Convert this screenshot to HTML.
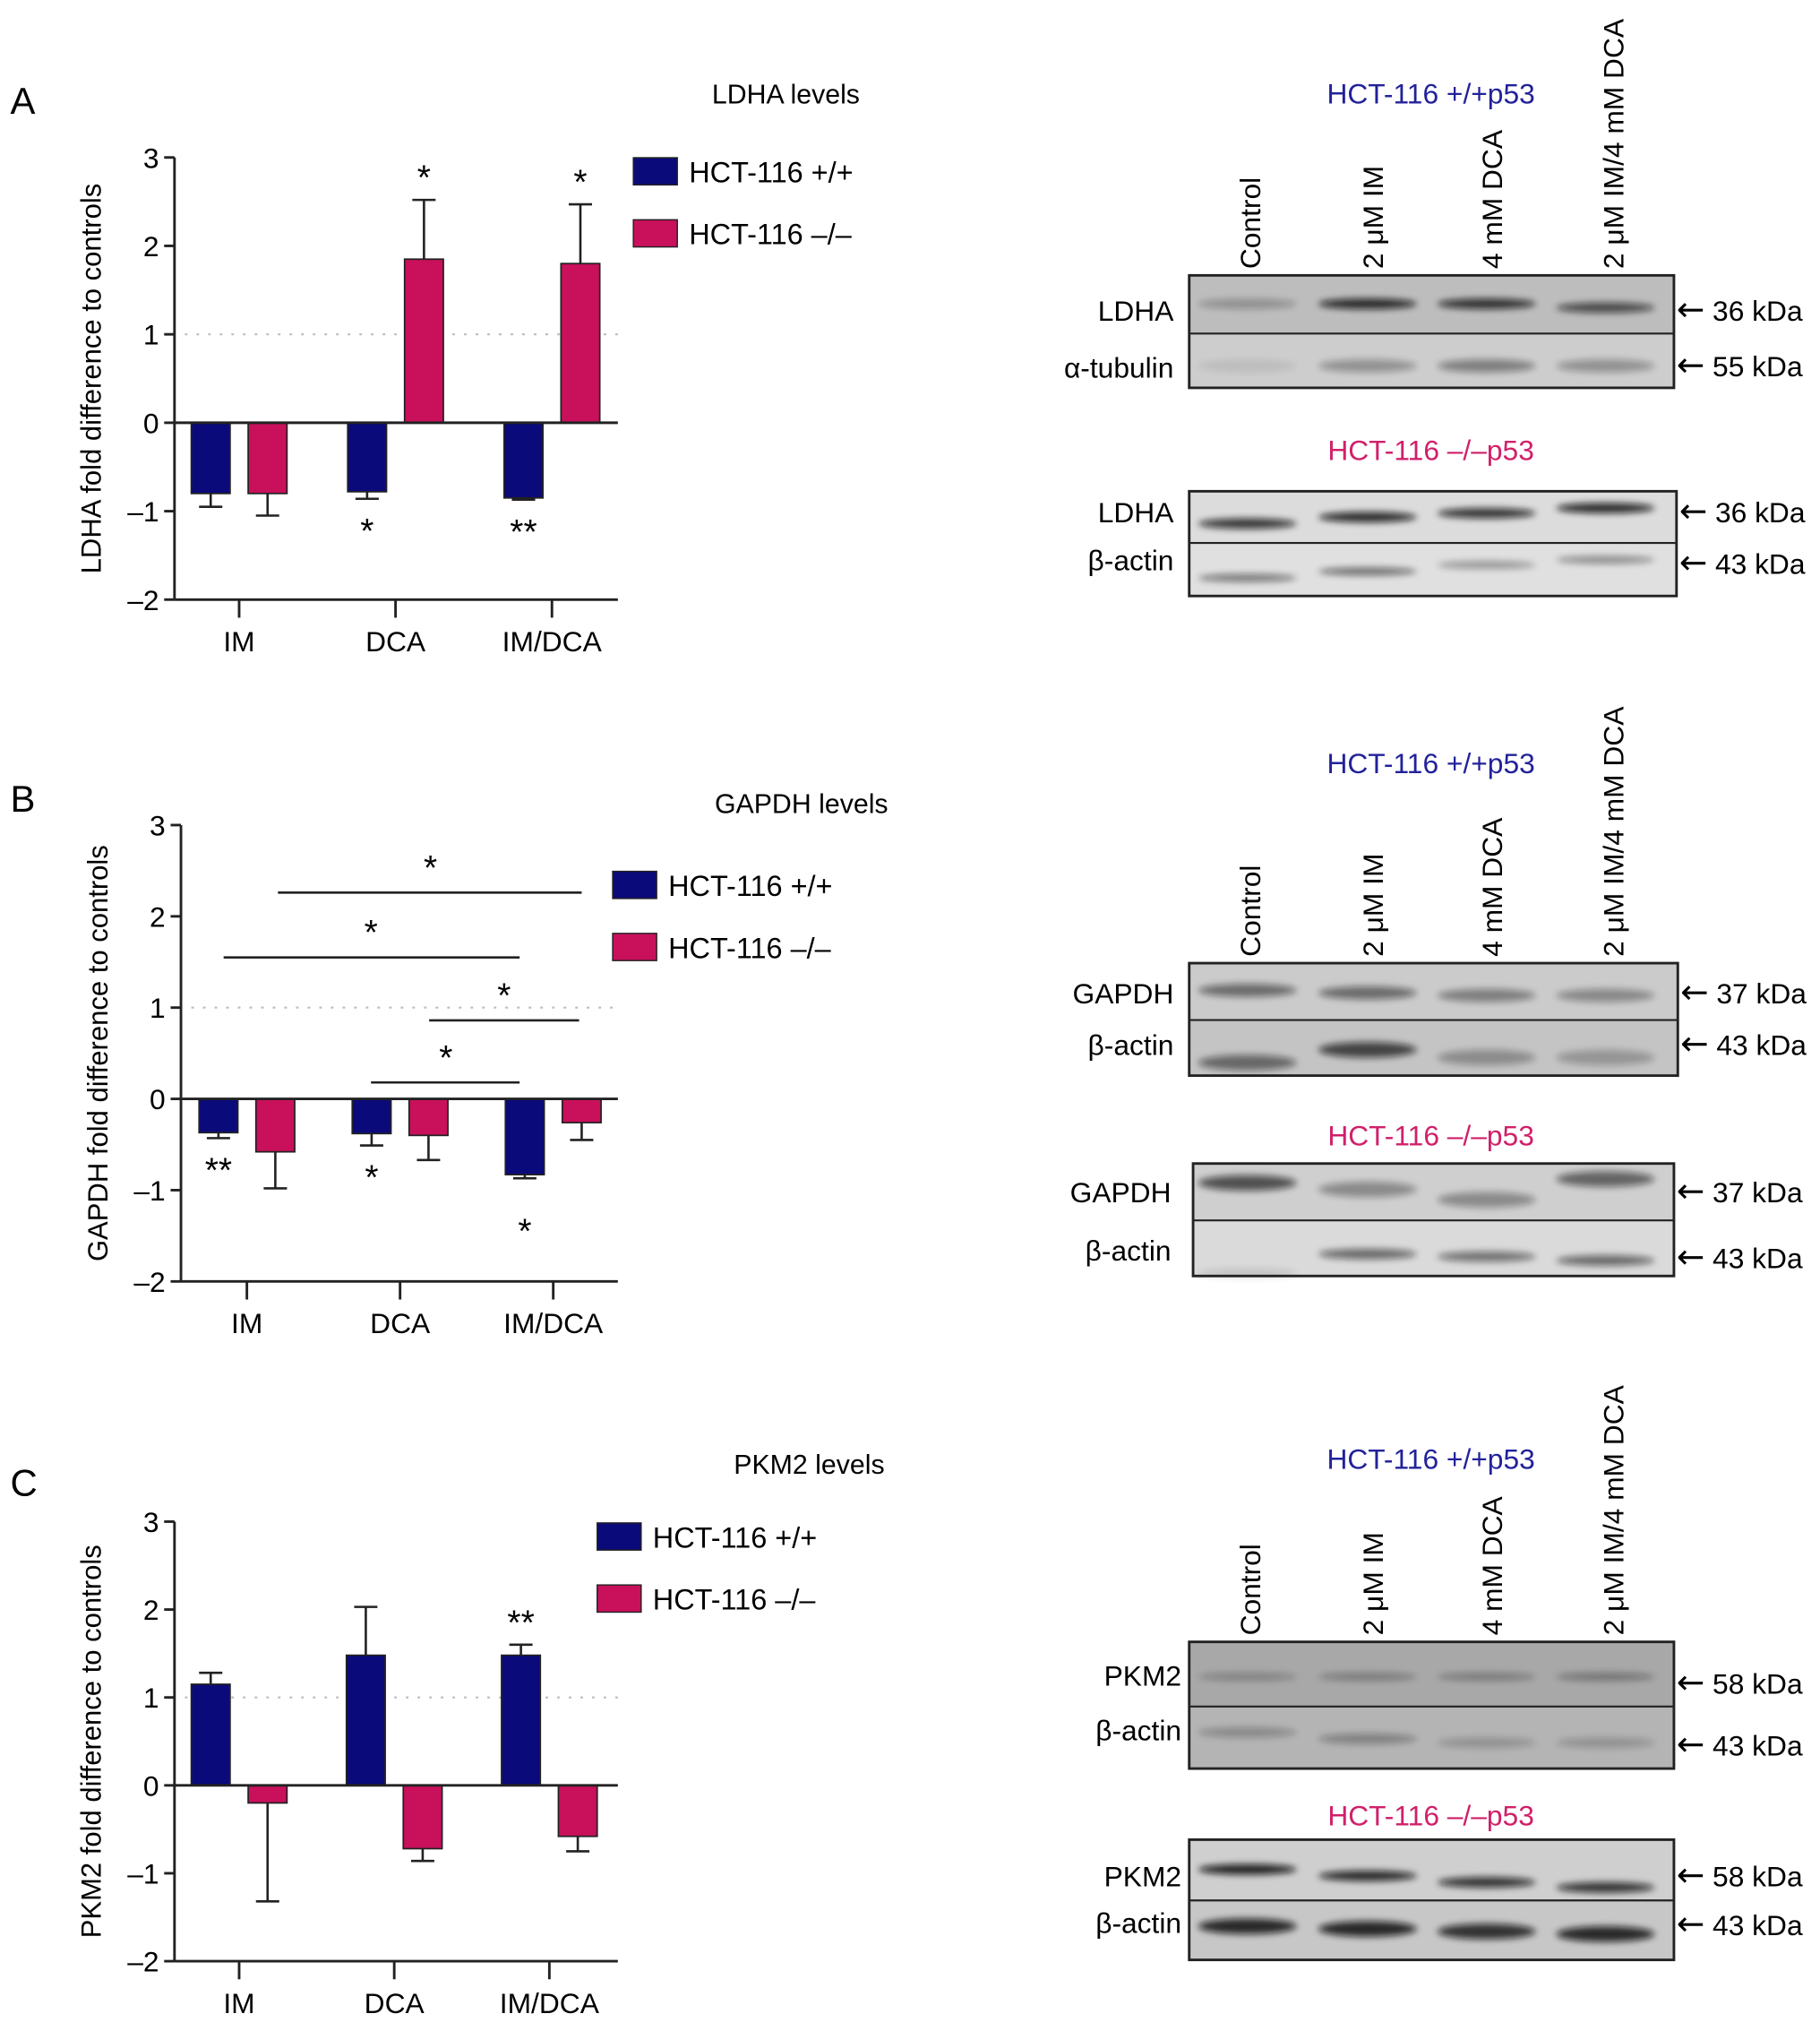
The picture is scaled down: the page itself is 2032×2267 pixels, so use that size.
<!DOCTYPE html>
<html><head><meta charset="utf-8"><style>
html,body{margin:0;padding:0;background:#fff;}
svg{display:block;font-family:"Liberation Sans",Arial,sans-serif;}
</style></head><body>
<svg id="fig" width="2032" height="2267" viewBox="0 0 1408 1571" preserveAspectRatio="none" xmlns="http://www.w3.org/2000/svg">
<defs>
<filter id="blur" x="-20%" y="-100%" width="140%" height="300%"><feGaussianBlur stdDeviation="2.5"/></filter>
</defs>
<g id="charts"></g>
<g id="blots"></g>
</svg>
<script>
// ---- Chart data ----
const categories = ["IM", "DCA", "IM/DCA"];
const seriesNames = ["HCT-116 +/+", "HCT-116 \u2013/\u2013"];
const yTicks = [3, 2, 1, 0, -1, -2];
const ldhaWT = [-0.8, -0.78, -0.85];
const ldhaWTErr = [0.15, 0.08, 0.02];
const ldhaKO = [-0.8, 1.85, 1.8];
const ldhaKOErr = [0.25, 0.67, 0.67];
const gapdhWT = [-0.37, -0.38, -0.83];
const gapdhWTErr = [0.06, 0.13, 0.04];
const gapdhKO = [-0.58, -0.4, -0.26];
const gapdhKOErr = [0.4, 0.27, 0.19];
const pkmWT = [1.15, 1.48, 1.48];
const pkmWTErr = [0.13, 0.55, 0.12];
const pkmKO = [-0.2, -0.72, -0.58];
const pkmKOErr = [1.12, 0.14, 0.17];

const NS = "http://www.w3.org/2000/svg";
const BLUE = "#0b0a7a", PINK = "#c9105b";
function mk(tag, attrs, parent, text) {
  const e = document.createElementNS(NS, tag);
  for (const k in attrs) e.setAttribute(k, attrs[k]);
  if (text !== undefined) e.textContent = text;
  parent.appendChild(e);
  return e;
}
const charts = document.getElementById("charts");

function drawChart(cfg) {
  const g = mk("g", {}, charts);
  
  
  const y = v => cfg.y0 - v * cfg.unit;
  const xc = i => cfg.cx[0] + i * (cfg.cx[1] - cfg.cx[0]);
  const L = mk("text", {x: 8, y: cfg.letterY, "font-size": 29}, g, cfg.letter);
  
  
  const T = mk("text", {x: cfg.titleX, y: cfg.titleY, "font-size": 21, "text-anchor": "middle"}, g, cfg.title);
  
  
  const ref = mk("line", {x1: cfg.ax + 8, x2: cfg.axEnd, y1: y(1), y2: y(1), stroke: "#bbb", "stroke-width": 1.5, "stroke-dasharray": "2,7"}, g);
  
  
  const ya = mk("g", {}, g);
  
  
  mk("line", {x1: cfg.ax, x2: cfg.ax, y1: y(3), y2: y(-2), stroke: "#222", "stroke-width": 2}, ya);
  yTicks.forEach(t => {
    mk("line", {x1: cfg.ax - 8, x2: cfg.ax, y1: y(t), y2: y(t), stroke: "#222", "stroke-width": 2}, ya);
    const tl = mk("text", {x: cfg.ax - 12, y: y(t) + 8, "font-size": 22, "text-anchor": "end"}, ya, t < 0 ? "\u2013" + Math.abs(t) : String(t));
    
    
  });
  const yt = mk("text", {x: 0, y: 0, "font-size": 21.5, "text-anchor": "middle", transform: `translate(${cfg.ax - 57},${(y(3) + y(-2)) / 2}) rotate(-90)`}, ya, cfg.yTitle);
  
  
  const xa = mk("g", {}, g);
  
  
  mk("line", {x1: cfg.ax, x2: cfg.axEnd, y1: y(-2), y2: y(-2), stroke: "#222", "stroke-width": 2}, xa);
  categories.forEach((c, i) => {
    mk("line", {x1: xc(i), x2: xc(i), y1: y(-2), y2: y(-2) + 14, stroke: "#222", "stroke-width": 2}, xa);
    const cl = mk("text", {x: xc(i), y: y(-2) + 40, "font-size": 22, "text-anchor": "middle"}, xa, c);
    
    
  });
  const bw = 30;
  [[cfg.wt, cfg.wtErr, BLUE, -22], [cfg.ko, cfg.koErr, PINK, 22]].forEach(([vals, errs, col, off], s) => {
    vals.forEach((v, i) => {
      const cx = xc(i) + off;
      const top = Math.min(y(v), y(0)), h = Math.abs(y(v) - y(0));
      const b = mk("rect", {x: cx - bw / 2, y: top, width: bw, height: h, fill: col, stroke: "#222", "stroke-width": 1.2}, g);
      
      
      const e = errs[i], sgn = v >= 0 ? 1 : -1;
      const ey = y(v + sgn * e);
      const eb = mk("path", {d: `M${cx},${y(v)}V${ey}M${cx - 9},${ey}H${cx + 9}`, stroke: "#222", "stroke-width": 1.8, fill: "none"}, g);
      
      
    });
  });
  mk("line", {x1: cfg.ax, x2: cfg.axEnd, y1: y(0), y2: y(0), stroke: "#222", "stroke-width": 2}, g);
  cfg.stars.forEach(st => {
    const sv = st.s === 0 ? cfg.wt[st.i] : cfg.ko[st.i];
    const se = st.s === 0 ? cfg.wtErr[st.i] : cfg.koErr[st.i];
    const sx = xc(st.i) + (st.s === 0 ? -22 : 22);
    const sy = sv >= 0 ? y(sv + se) - 8 : y(sv - se) + 34 + (st.extra || 0);
    const t = mk("text", {x: sx, y: sy, "font-size": 27, "text-anchor": "middle"}, g, st.t);
    
    
  });
  (cfg.brackets || []).forEach(br => {
    const l = mk("line", {x1: br.x1, x2: br.x2, y1: y(br.v), y2: y(br.v), stroke: "#222", "stroke-width": 1.8}, g);
    
    
    const t = mk("text", {x: br.sx, y: y(br.v) - 10, "font-size": 27, "text-anchor": "middle"}, g, "*");
    
    
  });
  const lg = mk("g", {}, g);
  
  
  [BLUE, PINK].forEach((col, k) => {
    const ly = cfg.legY + k * 48;
    const r = mk("rect", {x: cfg.legX, y: ly, width: 34, height: 21, fill: col, stroke: "#222", "stroke-width": 1}, lg);
    
    
    const t = mk("text", {x: cfg.legX + 43, y: ly + 19, "font-size": 22.5}, lg, seriesNames[k]);
    
    
  });
}

drawChart({name: "ldha-chart", letter: "A", letterY: 88, title: "LDHA levels", titleX: 608, titleY: 80,
  y0: 327, unit: 68.4, ax: 135, axEnd: 478, cx: [185, 306],
  yTitle: "LDHA fold difference to controls",
  wt: ldhaWT, wtErr: ldhaWTErr, ko: ldhaKO, koErr: ldhaKOErr,
  stars: [{i: 1, s: 0, t: "*"}, {i: 2, s: 0, t: "**"}, {i: 1, s: 1, t: "*"}, {i: 2, s: 1, t: "*"}],
  legX: 490, legY: 122});
drawChart({name: "gapdh-chart", letter: "B", letterY: 628, title: "GAPDH levels", titleX: 620, titleY: 629,
  y0: 850, unit: 70.6, ax: 140, axEnd: 478, cx: [191, 309.5],
  yTitle: "GAPDH fold difference to controls",
  wt: gapdhWT, wtErr: gapdhWTErr, ko: gapdhKO, koErr: gapdhKOErr,
  stars: [{i: 0, s: 0, t: "**"}, {i: 1, s: 0, t: "*"}, {i: 2, s: 0, t: "*", extra: 16}],
  brackets: [{x1: 215, x2: 450, v: 2.26, sx: 333}, {x1: 173, x2: 402, v: 1.55, sx: 287}, {x1: 332, x2: 448, v: 0.86, sx: 390}, {x1: 287, x2: 402, v: 0.18, sx: 345}],
  legX: 474, legY: 674});
drawChart({name: "pkm2-chart", letter: "C", letterY: 1157, title: "PKM2 levels", titleX: 626, titleY: 1140,
  y0: 1381, unit: 68, ax: 135, axEnd: 478, cx: [185, 305],
  yTitle: "PKM2 fold difference to controls",
  wt: pkmWT, wtErr: pkmWTErr, ko: pkmKO, koErr: pkmKOErr,
  stars: [{i: 2, s: 0, t: "**"}],
  legX: 462, legY: 1178});

// ---- Blots ----
const lanes = ["Control", "2 \u03bcM IM", "4 mM DCA", "2 \u03bcM IM/4 mM DCA"];
const laneX = [975, 1070, 1162, 1256];
const bandX = [965, 1058, 1150, 1242];
const blots = document.getElementById("blots");
function txt(x, y, s, attrs, name, parent) {
  const a = Object.assign({x: x, y: y, "font-size": 22}, attrs || {});
  const t = mk("text", a, parent || blots, s);
  
  
  return t;
}
function blotSet(cfg) {
  const g = mk("g", {}, blots);
  
  
  txt(1107, cfg.t1, "HCT-116 +/+p53", {fill: "#22229a", "text-anchor": "middle"}, "blot-title-wt", g);
  lanes.forEach((l, i) => txt(0, 0, l, {transform: `translate(${laneX[i]},${cfg.laneY}) rotate(-90)`}, "lane-label", g));
  txt(1107, cfg.t2, "HCT-116 \u2013/\u2013p53", {fill: "#d0206a", "text-anchor": "middle"}, "blot-title-ko", g);
  cfg.panels.forEach(p => {
    const pg = mk("g", {}, g);
    
    
    mk("rect", {x: p.x1, y: p.y1, width: p.x2 - p.x1, height: p.div - p.y1, fill: p.c1}, pg);
    mk("rect", {x: p.x1, y: p.div, width: p.x2 - p.x1, height: p.y2 - p.div, fill: p.c2}, pg);
    p.bands.forEach(b => {
      b.ys.forEach((by, i) => {
        mk("ellipse", {cx: bandX[i], cy: by, rx: 38, ry: b.h, fill: "#111", opacity: b.o[i], filter: "url(#blur)"}, pg);
      });
    });
    mk("rect", {x: p.x1, y: p.y1, width: p.x2 - p.x1, height: p.y2 - p.y1, fill: "none", stroke: "#222", "stroke-width": 2}, pg);
    mk("line", {x1: p.x1, x2: p.x2, y1: p.div, y2: p.div, stroke: "#222", "stroke-width": 1.5}, pg);
    p.labels.forEach(l => {
      txt(l[1], l[0] + 8, l[2], {"text-anchor": "end"}, "protein-label", pg);
      const k = txt(p.x2 + 2, l[3] + 8, "", {}, "kda-marker", pg);
      mk("tspan", {"font-size": 26, "font-family": "DejaVu Sans, sans-serif"}, k, "\u2190");
      mk("tspan", {}, k, " " + l[4]);
    });
  });
}
blotSet({name: "ldha-blots", t1: 80, t2: 356, laneY: 208, panels: [
  {x1: 920, x2: 1295, y1: 213, y2: 300, div: 258, c1: "#bdbdbd", c2: "#cdcdcd",
   bands: [{ys: [235, 235, 235, 238], h: 4, o: [0.25, 0.85, 0.8, 0.65]}, {ys: [283, 283, 283, 283], h: 5, o: [0.08, 0.3, 0.4, 0.3]}],
   labels: [[240, 908, "LDHA", 240, "36 kDa"], [284, 908, "\u03b1-tubulin", 283, "55 kDa"]]},
  {x1: 920, x2: 1297, y1: 380, y2: 461, div: 420, c1: "#dcdcdc", c2: "#e0e0e0",
   bands: [{ys: [405, 400, 397, 393], h: 4, o: [0.8, 0.85, 0.8, 0.85]}, {ys: [447, 442, 437, 433], h: 3, o: [0.5, 0.55, 0.35, 0.4]}],
   labels: [[396, 908, "LDHA", 396, "36 kDa"], [433, 908, "\u03b2-actin", 436, "43 kDa"]]}
]});
blotSet({name: "gapdh-blots", t1: 598, t2: 886, laneY: 740, panels: [
  {x1: 920, x2: 1298, y1: 745, y2: 832, div: 789, c1: "#cbcbcb", c2: "#c4c4c4",
   bands: [{ys: [766, 768, 770, 770], h: 5, o: [0.5, 0.5, 0.4, 0.35]}, {ys: [822, 812, 818, 818], h: 6, o: [0.5, 0.7, 0.3, 0.25]}],
   labels: [[768, 908, "GAPDH", 768, "37 kDa"], [808, 908, "\u03b2-actin", 808, "43 kDa"]]},
  {x1: 923, x2: 1295, y1: 900, y2: 987, div: 944, c1: "#cfcfcf", c2: "#dadada",
   bands: [{ys: [915, 920, 928, 912], h: 6, o: [0.65, 0.35, 0.35, 0.55]}, {ys: [985, 970, 972, 975], h: 4, o: [0.1, 0.55, 0.5, 0.55]}],
   labels: [[922, 906, "GAPDH", 922, "37 kDa"], [967, 906, "\u03b2-actin", 973, "43 kDa"]]}
]});
blotSet({name: "pkm2-blots", t1: 1136, t2: 1412, laneY: 1265, panels: [
  {x1: 920, x2: 1295, y1: 1270, y2: 1368, div: 1320, c1: "#a8a8a8", c2: "#b4b4b4",
   bands: [{ys: [1297, 1297, 1297, 1297], h: 3, o: [0.25, 0.3, 0.3, 0.35]}, {ys: [1340, 1345, 1348, 1348], h: 4, o: [0.25, 0.3, 0.2, 0.2]}],
   labels: [[1296, 914, "PKM2", 1302, "58 kDa"], [1338, 914, "\u03b2-actin", 1350, "43 kDa"]]},
  {x1: 920, x2: 1295, y1: 1423, y2: 1516, div: 1470, c1: "#cfcfcf", c2: "#c7c7c7",
   bands: [{ys: [1446, 1451, 1456, 1460], h: 4, o: [0.9, 0.85, 0.8, 0.8]}, {ys: [1490, 1492, 1494, 1496], h: 6, o: [0.85, 0.85, 0.8, 0.85]}],
   labels: [[1451, 914, "PKM2", 1451, "58 kDa"], [1487, 914, "\u03b2-actin", 1489, "43 kDa"]]}
]});
</script>
</body></html>
